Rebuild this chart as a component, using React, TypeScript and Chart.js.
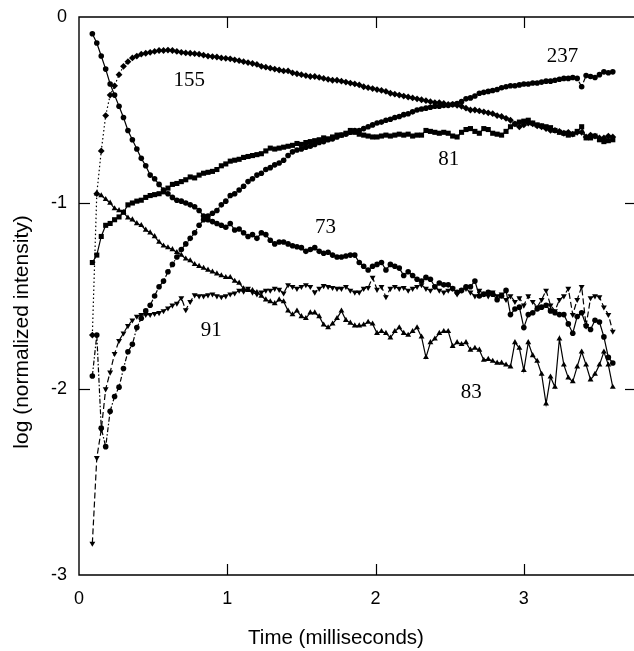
import React, { useEffect, useRef } from "react";
import { Chart, registerables } from "chart.js";

Chart.register(...registerables);

// time axis (milliseconds)
const times = [
  0.09, 0.12, 0.15, 0.18, 0.21, 0.24, 0.27, 0.30, 0.33, 0.36,
  0.39, 0.42, 0.45, 0.48, 0.51, 0.54, 0.57, 0.60, 0.63, 0.66,
  0.69, 0.72, 0.75, 0.78, 0.81, 0.84, 0.87, 0.90, 0.93, 0.96,
  0.99, 1.02, 1.05, 1.08, 1.11, 1.14, 1.17, 1.20, 1.23, 1.26,
  1.29, 1.32, 1.35, 1.38, 1.41, 1.44, 1.47, 1.50, 1.53, 1.56,
  1.59, 1.62, 1.65, 1.68, 1.71, 1.74, 1.77, 1.80, 1.83, 1.86,
  1.89, 1.92, 1.95, 1.98, 2.01, 2.04, 2.07, 2.10, 2.13, 2.16,
  2.19, 2.22, 2.25, 2.28, 2.31, 2.34, 2.37, 2.40, 2.43, 2.46,
  2.49, 2.52, 2.55, 2.58, 2.61, 2.64, 2.67, 2.70, 2.73, 2.76,
  2.79, 2.82, 2.85, 2.88, 2.91, 2.94, 2.97, 3.00, 3.03, 3.06,
  3.09, 3.12, 3.15, 3.18, 3.21, 3.24, 3.27, 3.30, 3.33, 3.36,
  3.39, 3.42, 3.45, 3.48, 3.51, 3.54, 3.57, 3.60,
];

const ion73 = [
  -0.09, -0.14, -0.21, -0.28, -0.36, -0.42, -0.48, -0.54, -0.61, -0.66,
  -0.71, -0.76, -0.80, -0.85, -0.87, -0.90, -0.93, -0.95, -0.97, -0.985,
  -0.99, -1.00, -1.01, -1.02, -1.04, -1.07, -1.09, -1.10, -1.11, -1.12,
  -1.13, -1.11, -1.145, -1.14, -1.16, -1.18, -1.17, -1.19, -1.16, -1.17,
  -1.20, -1.22, -1.21, -1.21, -1.22, -1.23, -1.235, -1.24, -1.26, -1.25,
  -1.24, -1.26, -1.27, -1.265, -1.28, -1.29, -1.29, -1.285, -1.28, -1.28,
  -1.32, -1.34, -1.36, -1.34, -1.33, -1.32, -1.36, -1.33, -1.34, -1.35,
  -1.39, -1.37, -1.39, -1.41, -1.42, -1.40, -1.41, -1.45, -1.43, -1.44,
  -1.44, -1.46, -1.48, -1.47, -1.45, -1.45, -1.42, -1.50, -1.49, -1.48,
  -1.49, -1.52, -1.50, -1.47, -1.60, -1.57, -1.56, -1.67, -1.60, -1.59,
  -1.57, -1.56, -1.55, -1.58, -1.59, -1.60, -1.60, -1.65, -1.70, -1.61,
  -1.59, -1.66, -1.68, -1.63, -1.64, -1.72, -1.83, -1.86,
];

const ion155 = [
  -1.71, -0.95, -0.72, -0.53, -0.42, -0.37, -0.31, -0.265, -0.24, -0.22,
  -0.21, -0.20, -0.195, -0.19, -0.185, -0.18, -0.18, -0.178, -0.18, -0.185,
  -0.19, -0.193, -0.195, -0.197, -0.20, -0.205, -0.21, -0.213, -0.215, -0.22,
  -0.222, -0.225, -0.23, -0.235, -0.24, -0.245, -0.25, -0.255, -0.265, -0.27,
  -0.275, -0.28, -0.285, -0.29, -0.29, -0.30, -0.305, -0.31, -0.315, -0.32,
  -0.32, -0.325, -0.33, -0.335, -0.34, -0.34, -0.345, -0.35, -0.355, -0.36,
  -0.365, -0.375, -0.38, -0.385, -0.39, -0.395, -0.40, -0.41, -0.415, -0.42,
  -0.425, -0.43, -0.435, -0.44, -0.445, -0.45, -0.455, -0.46, -0.46, -0.465,
  -0.47, -0.47, -0.475, -0.48, -0.49, -0.50, -0.50, -0.505, -0.51, -0.515,
  -0.52, -0.53, -0.535, -0.545, -0.555, -0.575, -0.59, -0.58, -0.57, -0.575,
  -0.585, -0.59, -0.60, -0.61, -0.61, -0.615, -0.625, -0.62, -0.63, -0.62,
  -0.62, -0.645, -0.635, -0.64, -0.65, -0.65, -0.64, -0.645,
];

const ion81 = [
  -1.32, -1.28, -1.18, -1.12, -1.11, -1.09, -1.075, -1.05, -1.01, -1.00,
  -0.99, -0.985, -0.97, -0.96, -0.955, -0.95, -0.94, -0.92, -0.90, -0.895,
  -0.885, -0.875, -0.86, -0.865, -0.85, -0.84, -0.835, -0.83, -0.82, -0.80,
  -0.79, -0.775, -0.77, -0.765, -0.755, -0.75, -0.745, -0.74, -0.735, -0.72,
  -0.705, -0.71, -0.705, -0.70, -0.695, -0.69, -0.68, -0.685, -0.675, -0.67,
  -0.665, -0.66, -0.65, -0.655, -0.645, -0.635, -0.635, -0.625, -0.61, -0.62,
  -0.63, -0.635, -0.64, -0.645, -0.645, -0.64, -0.635, -0.64, -0.635, -0.63,
  -0.635, -0.63, -0.64, -0.635, -0.635, -0.61, -0.615, -0.62, -0.625, -0.62,
  -0.625, -0.64, -0.645, -0.62, -0.605, -0.60, -0.615, -0.625, -0.60, -0.605,
  -0.625, -0.63, -0.635, -0.615, -0.59, -0.575, -0.565, -0.56, -0.555, -0.57,
  -0.58, -0.585, -0.59, -0.595, -0.61, -0.62, -0.625, -0.635, -0.63, -0.615,
  -0.59, -0.65, -0.65, -0.64, -0.66, -0.67, -0.665, -0.66,
];

const ion83 = [
  null, -0.95, -0.96, -0.98, -1.00, -1.03, -1.04, -1.05, -1.08, -1.09,
  -1.11, -1.12, -1.145, -1.16, -1.18, -1.21, -1.23, -1.24, -1.25, -1.265,
  -1.28, -1.30, -1.31, -1.33, -1.34, -1.35, -1.36, -1.37, -1.38, -1.39,
  -1.40, -1.40, -1.42, -1.43, -1.46, -1.47, -1.47, -1.48, -1.50, -1.52,
  -1.53, -1.54, -1.52, -1.53, -1.58, -1.60, -1.58, -1.61, -1.62, -1.59,
  -1.59, -1.61, -1.655, -1.67, -1.65, -1.62, -1.58, -1.63, -1.645, -1.66,
  -1.66, -1.655, -1.64, -1.65, -1.70, -1.69, -1.70, -1.725, -1.69, -1.67,
  -1.70, -1.71, -1.69, -1.67, -1.72, -1.83, -1.75, -1.73, -1.70, -1.69,
  -1.69, -1.77, -1.75, -1.76, -1.75, -1.79, -1.78, -1.79, -1.845, -1.84,
  -1.85, -1.86, -1.86, -1.87, -1.88, -1.75, -1.78, -1.90, -1.75, -1.82,
  -1.85, -1.92, -2.08, -1.935, -1.99, -1.73, -1.87, -1.94, -1.96, -1.88,
  -1.80, -1.87, -1.95, -1.92, -1.87, -1.80, -1.87, -1.99,
];

const ion91 = [
  -2.83, -2.37, -2.22, -2.00, -1.91, -1.81, -1.74, -1.70, -1.66, -1.63,
  -1.61, -1.60, -1.60, -1.60, -1.595, -1.59, -1.58, -1.565, -1.55, -1.54,
  -1.51, -1.575, -1.53, -1.495, -1.50, -1.50, -1.495, -1.49, -1.50, -1.505,
  -1.50, -1.49, -1.485, -1.47, -1.475, -1.46, -1.48, -1.49, -1.48, -1.47,
  -1.47, -1.46, -1.465, -1.485, -1.44, -1.45, -1.46, -1.45, -1.44, -1.45,
  -1.48, -1.46, -1.445, -1.45, -1.455, -1.46, -1.46, -1.45, -1.47, -1.48,
  -1.48, -1.46, -1.455, -1.40, -1.465, -1.45, -1.505, -1.46, -1.45, -1.46,
  -1.455, -1.47, -1.46, -1.45, -1.44, -1.46, -1.47, -1.45, -1.47, -1.48,
  -1.47, -1.46, -1.49, -1.47, -1.46, -1.48, -1.50, -1.47, -1.49, -1.50,
  -1.48, -1.50, -1.49, -1.52, -1.50, -1.53, -1.51, -1.55, -1.50, -1.53,
  -1.56, -1.52, -1.47, -1.55, -1.58, -1.52, -1.50, -1.46, -1.60, -1.52,
  -1.45, -1.66, -1.51, -1.50, -1.505, -1.56, -1.60, -1.69,
];

const ion237 = [
  -1.93, -1.71, -2.21, -2.31, -2.12, -2.04, -1.99, -1.89, -1.80, -1.76,
  -1.67, -1.62, -1.58, -1.55, -1.50, -1.45, -1.42, -1.37, -1.33, -1.29,
  -1.25, -1.22, -1.19, -1.16, -1.12, -1.09, -1.07, -1.055, -1.04, -1.01,
  -0.99, -0.96, -0.95, -0.93, -0.91, -0.885, -0.87, -0.85, -0.84, -0.82,
  -0.81, -0.795, -0.785, -0.77, -0.745, -0.725, -0.715, -0.71, -0.70, -0.695,
  -0.685, -0.675, -0.67, -0.66, -0.655, -0.645, -0.635, -0.63, -0.62, -0.61,
  -0.61, -0.60, -0.59, -0.58, -0.57, -0.565, -0.555, -0.55, -0.54, -0.535,
  -0.525, -0.52, -0.51, -0.50, -0.495, -0.49, -0.485, -0.48, -0.48, -0.475,
  -0.475, -0.47, -0.465, -0.455, -0.44, -0.435, -0.425, -0.41, -0.405, -0.40,
  -0.395, -0.39, -0.38, -0.375, -0.37, -0.37, -0.365, -0.36, -0.36, -0.355,
  -0.355, -0.35, -0.345, -0.345, -0.34, -0.335, -0.33, -0.33, -0.325, -0.33,
  -0.375, -0.315, -0.32, -0.325, -0.31, -0.295, -0.30, -0.295,
];

const xTickValues = [0, 1, 2, 3];
const yTickValues = [0, -1, -2, -3];

// curve labels, placed in data coordinates
const curveLabels = [
  { text: "155", t: 0.743, v: -0.341 },
  { text: "237", t: 3.26, v: -0.21 },
  { text: "81", t: 2.493, v: -0.766 },
  { text: "73", t: 1.662, v: -1.132 },
  { text: "91", t: 0.892, v: -1.686 },
  { text: "83", t: 2.645, v: -2.019 },
];

const xTitle = "Time (milliseconds)";
const yTitle = "log (normalized intensity)";

export default function App() {
  const ref = useRef<HTMLCanvasElement>(null);

  useEffect(() => {
    document.body.style.margin = "0";
    const canvas = ref.current;
    if (!canvas) return;

    const pts = (ys: (number | null)[]) => times.map((t, i) => ({ x: t, y: ys[i] }));

    const base = {
      borderColor: "#000",
      backgroundColor: "#000",
      borderWidth: 1.2,
      pointBorderWidth: 0,
      pointBackgroundColor: "#000",
      pointBorderColor: "#000",
      tension: 0,
      fill: false,
      clip: false,
    };

    const frame = {
      id: "frame",
      afterDraw(chart: any) {
        const { ctx, scales } = chart;
        const xs = scales.x;
        const ys = scales.y;
        const left = xs.getPixelForValue(xs.min);
        const right = xs.getPixelForValue(xs.max);
        const top = ys.getPixelForValue(ys.max);
        const bottom = ys.getPixelForValue(ys.min);
        ctx.save();
        ctx.strokeStyle = "#000";
        ctx.lineWidth = 1.4;
        // open frame: the right edge of the plot falls outside the picture
        ctx.beginPath();
        ctx.moveTo(right + 10, top);
        ctx.lineTo(left, top);
        ctx.lineTo(left, bottom);
        ctx.lineTo(right + 10, bottom);
        ctx.stroke();
        ctx.lineWidth = 1.2;
        const seg = (a: number, b: number, c: number, d: number) => {
          ctx.beginPath();
          ctx.moveTo(a, b);
          ctx.lineTo(c, d);
          ctx.stroke();
        };
        xTickValues.forEach((v) => {
          if (v <= 0) return;
          const px = Math.round(xs.getPixelForValue(v)) + 0.5;
          seg(px, bottom, px, bottom - 11);
          seg(px, top, px, top + 11);
        });
        yTickValues.forEach((v) => {
          if (v === 0 || v === -3) return;
          const py = Math.round(ys.getPixelForValue(v)) + 0.5;
          seg(left, py, left + 11, py);
          seg(right + 2, py, right - 13, py);
        });
        ctx.fillStyle = "#000";
        ctx.textAlign = "center";
        ctx.textBaseline = "middle";
        ctx.font = '20.5px "Liberation Sans", Arial, sans-serif';
        ctx.fillText(xTitle, 336, 638);
        ctx.save();
        ctx.translate(22, 332);
        ctx.rotate(-Math.PI / 2);
        ctx.font = '21px "Liberation Sans", Arial, sans-serif';
        ctx.fillText(yTitle, 0, 0);
        ctx.restore();
        ctx.font = '21px "Liberation Serif", "Times New Roman", serif';
        curveLabels.forEach((l) => {
          ctx.fillText(l.text, xs.getPixelForValue(l.t), ys.getPixelForValue(l.v));
        });
        ctx.restore();
      },
    };

    const chart = new Chart(canvas, {
      type: "line",
      data: {
        datasets: [
          { ...base, label: "73", data: pts(ion73), pointStyle: "circle", pointRadius: 2.8 },
          { ...base, label: "155", data: pts(ion155), pointStyle: "rectRot", pointRadius: 3.4, borderDash: [1.5, 2.5] },
          { ...base, label: "81", data: pts(ion81), pointStyle: "rect", pointRadius: 3.6 },
          { ...base, label: "83", data: pts(ion83), pointStyle: "triangle", pointRadius: 3.4 },
          { ...base, label: "91", data: pts(ion91), pointStyle: "triangle", pointRotation: 180, pointRadius: 3.4, borderDash: [6, 3] },
          { ...base, label: "237", data: pts(ion237), pointStyle: "circle", pointRadius: 2.8, borderDash: [5, 2, 1.5, 2] },
        ] as any,
      },
      options: {
        responsive: false,
        animation: false,
        devicePixelRatio: 1,
        layout: { padding: { top: 17, right: 0, left: 0, bottom: 0 } },
        plugins: { legend: { display: false }, tooltip: { enabled: false }, title: { display: false } },
        scales: {
          x: {
            type: "linear",
            min: 0,
            max: 3.77,
            grid: { display: false, drawTicks: false },
            border: { display: false },
            afterBuildTicks: (s: any) => {
              s.ticks = xTickValues.map((v) => ({ value: v }));
            },
            afterFit: (s: any) => {
              s.height = 76;
              s.paddingLeft = 0;
              s.paddingRight = 0;
            },
            ticks: {
              color: "#000",
              padding: 13,
              maxRotation: 0,
              autoSkip: false,
              font: { family: '"Liberation Sans", Arial, sans-serif', size: 18 },
            },
          },
          y: {
            type: "linear",
            min: -3,
            max: 0,
            grid: { display: false, drawTicks: false },
            border: { display: false },
            afterBuildTicks: (s: any) => {
              s.ticks = yTickValues.map((v) => ({ value: v }));
            },
            afterFit: (s: any) => {
              s.width = 79;
              s.paddingTop = 0;
              s.paddingBottom = 0;
            },
            ticks: {
              color: "#000",
              padding: 12,
              autoSkip: false,
              font: { family: '"Liberation Sans", Arial, sans-serif', size: 18 },
            },
          },
        },
      } as any,
      plugins: [frame],
    });

    return () => chart.destroy();
  }, []);

  return (
    <div style={{ width: 634, height: 651, overflow: "hidden", position: "relative", background: "#fff" }}>
      <canvas ref={ref} width={642} height={651} style={{ display: "block", width: 642, height: 651 }} />
    </div>
  );
}
